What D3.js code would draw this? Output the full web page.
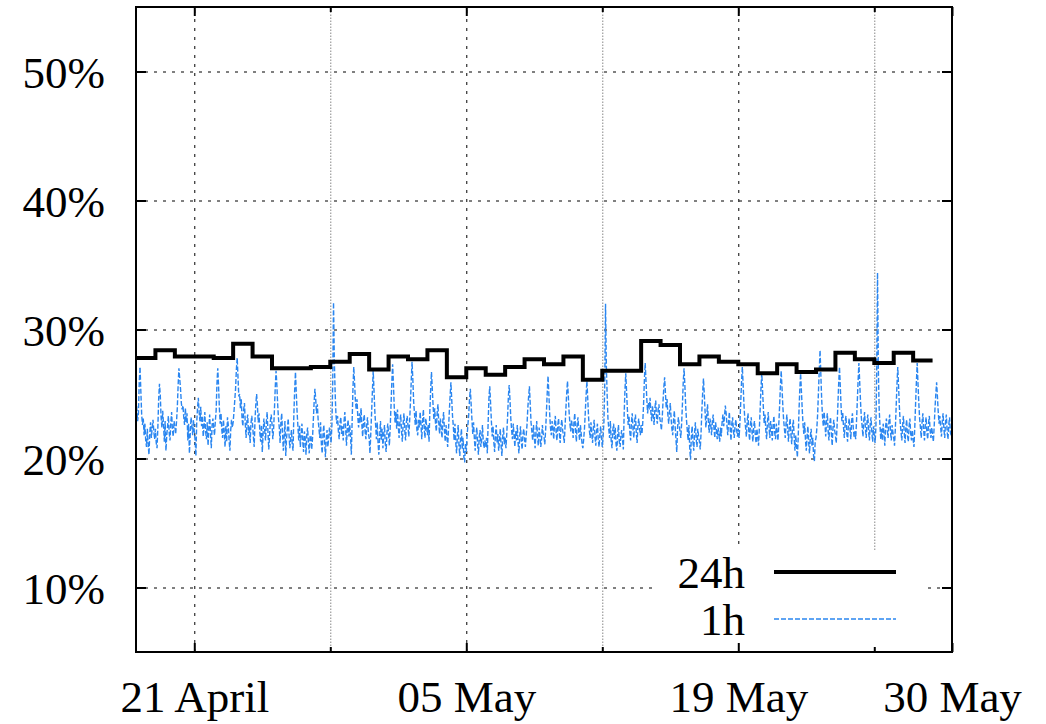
<!DOCTYPE html>
<html>
<head>
<meta charset="utf-8">
<script src="https://cdn.jsdelivr.net/npm/d3@7"></script>
<style>
  html, body { margin: 0; padding: 0; background: #fff; }
  svg { display: block; }
  text { font-family: "Liberation Serif", "Times New Roman", Times, serif; fill: #000; }
</style>
</head>
<body>
<svg id="chart" width="1046" height="724"></svg>
<script>
// ---- data ----
const startDay = "2013-04-18";
const endDay = "2013-05-30";
const yTicks = [10, 20, 30, 40, 50];
const xLabelDates = ["2013-04-21", "2013-05-05", "2013-05-19", "2013-05-30"];
const xLabels = ["21 April", "05 May", "19 May", "30 May"];
const xMinorDates = ["2013-04-28", "2013-05-12", "2013-05-26"];
const seriesNames = ["24h", "1h"];

// 24h average, one value per day starting 18 April (percent)
const daily24h = [
  27.8, 28.4, 27.9, 27.9, 27.8, 28.9, 27.9, 27.0, 27.0, 27.1,
  27.5, 28.1, 26.9, 27.9, 27.7, 28.4, 26.3, 27.0, 26.5, 27.1,
  27.7, 27.3, 27.9, 26.1, 26.8, 26.8, 29.1, 28.8, 27.3, 27.9,
  27.5, 27.3, 26.6, 27.3, 26.7, 26.9, 28.2, 27.7, 27.4, 28.2,
  27.6
];

// 1h average, one value per hour starting 18 April 00:00 (percent)
const hourly1h = [
  24.6,23.8,22.9,23.5,25.9,27.1,25.2,23.4,22.6,23.1,21.8,22.7,21.4,20.9,22.3,21.1,20.3,21.9,22.8,21.6,22.4,23.0,22.1,21.5, // 18 Apr
  22.3,21.2,20.8,22.4,24.6,25.8,24.9,23.2,22.4,23.7,22.6,21.3,22.9,20.6,21.8,22.5,23.3,22.0,21.4,22.8,23.6,22.2,21.7,22.9, // 19 Apr
  22.5,21.9,22.8,23.9,25.6,27.0,26.2,25.4,24.3,23.8,24.1,23.2,22.6,23.9,22.8,23.5,21.4,22.7,20.4,21.9,23.2,22.6,21.8,23.0, // 20 Apr
  22.1,21.4,20.2,22.8,23.9,24.7,23.6,22.9,24.0,22.5,23.3,21.7,22.4,23.6,22.1,21.5,22.8,21.0,22.3,23.4,22.0,20.8,22.6,23.1, // 21 Apr
  22.4,21.8,22.9,23.7,25.8,27.0,25.6,23.9,22.7,23.5,22.2,21.6,23.0,22.1,20.9,22.5,21.3,23.2,22.6,21.4,20.6,22.2,23.0,22.4, // 22 Apr
  22.8,23.6,24.5,25.4,26.9,27.8,26.3,24.8,25.0,23.9,24.6,23.1,22.5,23.8,24.3,22.7,21.6,22.9,23.4,21.8,22.5,21.2,22.7,23.3, // 23 Apr
  22.6,21.7,20.9,23.0,24.2,25.0,24.1,22.8,23.5,22.0,21.3,22.6,20.5,21.9,23.1,22.2,21.4,22.8,23.6,22.1,20.7,21.8,22.9,23.4, // 24 Apr
  22.7,21.5,22.3,23.8,25.5,26.8,25.7,24.2,23.1,22.4,21.2,22.8,23.5,22.0,20.6,21.7,22.9,20.2,21.6,22.3,23.1,21.9,20.8,21.5, // 25 Apr
  22.2,21.1,20.6,23.4,25.3,26.7,25.1,23.6,22.5,21.4,22.6,20.9,21.8,22.7,21.3,20.5,22.1,21.6,20.3,21.9,22.4,21.2,20.4,21.7, // 26 Apr
  21.8,20.7,21.5,22.9,24.3,25.4,24.6,23.5,24.2,23.0,22.3,21.6,22.8,21.1,20.4,21.9,22.6,21.3,20.1,21.5,22.2,20.9,21.6,22.4, // 27 Apr
  21.9,21.2,22.6,25.8,32.1,27.6,25.1,23.4,22.7,23.3,22.1,21.5,22.8,23.2,21.9,22.5,21.4,22.9,23.6,22.3,21.0,22.4,23.0,21.7, // 28 Apr
  22.6,21.8,20.3,22.9,25.4,27.1,25.9,24.5,23.8,24.6,23.2,22.4,23.5,22.8,23.9,22.6,21.7,22.9,23.4,22.1,21.5,22.6,23.2,22.0, // 29 Apr
  21.6,20.4,21.9,23.5,25.2,26.8,25.3,23.7,22.6,21.5,22.8,21.2,20.3,21.7,22.9,21.4,22.3,20.8,21.9,22.6,21.1,20.5,22.0,22.7, // 30 Apr
  21.9,21.0,22.4,24.1,25.9,27.3,25.8,24.0,22.8,23.6,22.3,23.8,22.5,21.6,22.9,23.4,22.1,21.3,22.7,23.5,22.2,21.4,22.8,23.3, // 01 May
  22.5,21.7,22.9,24.3,26.0,27.5,26.1,24.4,23.5,22.6,23.7,22.2,21.8,23.0,22.4,23.6,22.7,21.5,22.9,23.8,22.3,21.6,23.1,22.5, // 02 May
  21.8,22.6,21.3,23.7,25.3,26.7,25.4,24.1,23.0,23.9,22.7,22.1,23.5,24.2,22.8,21.9,23.1,22.4,21.6,22.9,23.6,22.2,21.3,22.6, // 03 May
  21.7,20.9,22.2,23.6,24.8,25.9,24.6,23.3,22.5,21.4,22.7,21.2,20.4,21.8,22.6,21.0,20.2,21.5,22.3,20.7,21.6,20.1,19.7,21.2, // 04 May
  20.5,21.8,22.6,23.4,24.6,25.4,24.2,23.0,21.9,22.8,21.5,20.6,21.9,22.4,21.1,20.3,21.7,22.2,20.9,21.5,22.6,21.3,20.8,21.4, // 05 May
  20.9,21.6,20.4,22.8,24.7,25.6,24.3,22.9,21.7,22.5,21.3,20.5,21.8,22.6,21.2,21.9,20.6,21.4,22.3,21.0,20.2,21.7,22.4,21.1, // 06 May
  21.6,20.8,21.9,23.2,24.8,25.7,24.5,23.1,22.2,21.5,22.7,21.8,20.9,22.1,21.4,22.6,21.2,20.4,21.7,22.5,21.3,20.7,21.9,22.3, // 07 May
  21.5,20.9,21.8,22.6,23.9,24.8,25.6,24.2,22.8,22.1,21.4,22.6,21.7,20.8,22.0,22.9,21.6,21.0,22.4,21.8,20.9,21.5,22.6,21.9, // 08 May
  21.7,21.1,22.2,23.6,25.1,26.4,25.0,23.5,22.4,21.8,22.9,22.3,21.5,22.7,23.3,22.0,21.4,22.6,23.1,21.9,21.2,22.5,23.0,22.2, // 09 May
  21.8,21.2,22.5,23.8,25.0,26.0,24.9,23.6,22.7,22.1,23.0,22.4,21.6,22.8,23.5,22.2,21.3,22.7,23.2,22.0,21.4,22.6,21.9,21.1, // 10 May
  20.8,21.5,22.3,23.6,24.9,26.0,24.7,23.3,22.2,21.6,22.8,21.9,21.2,22.4,23.0,21.7,21.0,22.1,22.7,21.5,20.9,21.8,22.5,21.6, // 11 May
  20.9,21.7,22.8,25.5,32.0,27.2,24.9,23.1,22.3,21.6,22.9,21.4,20.8,22.2,22.7,21.5,22.4,21.1,20.6,21.9,22.6,21.3,20.9,21.8, // 12 May
  22.2,21.5,20.7,23.4,25.3,26.6,25.2,23.8,22.6,23.3,22.1,21.4,22.8,23.5,22.2,21.6,22.9,23.4,22.0,21.2,22.5,23.1,22.4,21.8, // 13 May
  22.6,21.9,22.8,24.2,26.1,27.4,26.0,24.6,23.5,24.3,23.8,24.7,23.6,22.9,24.1,23.4,22.6,23.9,24.5,23.2,22.7,23.8,24.2,23.1, // 14 May
  22.8,22.2,23.1,24.4,25.5,26.3,25.1,23.9,24.6,23.4,22.7,23.6,24.3,23.1,22.3,21.8,23.0,23.7,22.5,21.5,20.5,22.4,23.2,22.6, // 15 May
  22.1,21.6,22.7,24.2,25.9,27.0,25.7,24.1,23.0,22.2,21.4,22.6,20.8,19.9,21.7,22.5,21.3,20.6,22.0,22.8,21.5,20.9,22.3,21.7, // 16 May
  21.3,20.7,22.0,23.7,25.1,26.2,25.0,23.6,22.4,23.3,24.2,22.9,22.0,23.1,22.6,21.8,22.9,23.4,22.3,21.6,22.8,22.2,21.5,22.4, // 17 May
  21.9,21.3,22.4,21.7,22.8,23.4,22.5,23.3,24.1,23.5,22.6,21.8,22.9,23.6,22.3,21.4,22.7,23.2,22.1,21.6,22.5,23.0,22.2,21.7, // 18 May
  22.3,21.6,22.8,24.3,25.9,27.1,25.7,24.2,23.1,22.4,21.7,22.9,23.5,22.1,21.4,22.6,23.2,22.0,21.3,22.5,22.9,21.8,21.2,22.3, // 19 May
  21.7,21.0,22.3,23.8,25.4,26.6,25.3,23.9,22.7,23.4,22.2,21.5,22.8,23.6,22.4,21.6,22.9,22.3,21.4,22.6,23.3,22.0,21.5,22.7, // 20 May
  22.0,21.4,22.6,24.0,25.6,26.8,25.5,24.1,23.0,22.3,21.6,22.7,23.4,22.2,21.3,22.5,23.1,21.9,21.1,22.4,23.0,21.7,20.6,21.8, // 21 May
  20.9,20.1,21.6,23.7,25.4,26.6,25.2,23.8,22.6,21.9,22.8,21.4,20.6,21.8,22.5,21.2,20.4,21.7,22.3,21.0,21.6,20.2,19.8,21.3, // 22 May
  21.6,22.3,23.4,25.1,26.8,28.4,26.5,24.6,23.3,22.5,23.6,22.8,21.7,22.9,23.5,22.1,21.4,22.7,23.2,21.9,21.0,22.4,23.0,22.2, // 23 May
  21.8,21.2,22.5,24.1,25.8,27.1,25.6,24.0,22.9,23.6,22.4,21.6,22.8,23.3,22.0,21.3,22.6,23.1,22.3,21.5,22.9,23.5,22.4,21.7, // 24 May
  22.1,21.5,22.8,24.4,26.0,27.4,25.9,24.4,23.2,22.5,21.7,22.9,23.6,22.4,21.6,22.8,23.4,22.1,21.4,22.7,23.2,22.0,21.3,22.5, // 25 May
  21.8,21.2,22.4,26.8,34.4,27.0,23.9,22.6,21.5,22.3,21.4,22.7,21.9,21.0,22.5,23.1,22.2,21.6,22.8,23.4,22.1,21.4,22.6,22.0, // 26 May
  21.6,21.0,22.3,24.0,25.7,27.1,25.6,24.0,22.8,22.1,21.4,22.6,23.3,22.0,21.2,22.4,23.0,21.8,21.3,22.5,23.1,21.9,21.4,22.2, // 27 May
  21.5,20.9,22.4,24.2,25.9,27.4,25.8,24.3,23.1,22.4,21.6,22.8,23.5,22.2,21.4,22.6,23.2,22.0,21.5,22.7,23.3,22.1,21.6,22.4, // 28 May
  21.8,21.3,22.5,23.9,25.0,25.9,24.8,23.6,22.7,23.3,22.4,21.7,22.9,23.5,22.3,21.6,22.8,23.4,22.1,21.5,22.6,23.2,22.0,21.8  // 29 May
];

// ---- layout ----
const plot = { left: 136, right: 952, top: 7, bottom: 652 };
const FONT = 45;

const parseDay = d3.utcParse("%Y-%m-%d");
const t0 = parseDay(startDay);

const x = d3.scaleUtc()
  .domain([t0, parseDay(endDay)])
  .range([plot.left, plot.right]);
const y = d3.scaleLinear()
  .domain([5, 55])
  .range([plot.bottom, plot.top]);

const dailyPts = daily24h.map((v, i) => ({ t: d3.utcDay.offset(t0, i), v }));
// close the last step at the end of its day
dailyPts.push({ t: d3.utcDay.offset(t0, daily24h.length), v: daily24h[daily24h.length - 1] });
const hourlyPts = hourly1h.map((v, i) => ({ t: d3.utcHour.offset(t0, i), v }));

const svg = d3.select("#chart");
const W = plot.right - plot.left, H = plot.bottom - plot.top;

// ---- grid ----
const gridY = svg.append("g")
  .attr("transform", `translate(${plot.left},0)`)
  .call(d3.axisLeft(y).tickValues(yTicks).tickSize(-W).tickFormat(""));
gridY.select(".domain").remove();
gridY.selectAll("line").attr("stroke", "#000").attr("stroke-width", 1).attr("stroke-dasharray", "3,6");

const gridXMajor = svg.append("g")
  .attr("transform", `translate(0,${plot.bottom})`)
  .call(d3.axisBottom(x).tickValues(xLabelDates.map(parseDay)).tickSize(-H).tickFormat(""));
gridXMajor.select(".domain").remove();
gridXMajor.selectAll("line").attr("stroke", "#000").attr("stroke-width", 1).attr("stroke-dasharray", "3,6");

const gridXMinor = svg.append("g")
  .attr("transform", `translate(0,${plot.bottom})`)
  .call(d3.axisBottom(x).tickValues(xMinorDates.map(parseDay)).tickSize(-H).tickFormat(""));
gridXMinor.select(".domain").remove();
gridXMinor.selectAll("line").attr("stroke", "#888").attr("stroke-width", 1).attr("stroke-dasharray", "1.5,1.5");

// ---- series ----
const blue = "#2a86f0";
const line = d3.line().x(d => x(d.t)).y(d => y(d.v));

svg.append("path")
  .datum(hourlyPts)
  .attr("d", line)
  .attr("fill", "none")
  .attr("stroke", blue)
  .attr("stroke-width", 1.4)
  .attr("stroke-dasharray", "5,2");

svg.append("path")
  .datum(dailyPts)
  .attr("d", line.curve(d3.curveStepAfter))
  .attr("fill", "none")
  .attr("stroke", "#000")
  .attr("stroke-width", 4)
  .attr("stroke-linejoin", "miter");

// ---- legend ----
const legend = svg.append("g");
legend.append("rect")
  .attr("x", 658).attr("y", 550).attr("width", 268).attr("height", plot.bottom - 550)
  .attr("fill", "#fff");
const legendRows = [
  { name: seriesNames[0], color: "#000", width: 4, dash: null, yLine: 572, yText: 588 },
  { name: seriesNames[1], color: blue, width: 1.4, dash: "5,2", yLine: 619, yText: 635 }
];
legendRows.forEach(r => {
  legend.append("text")
    .attr("x", 745).attr("y", r.yText)
    .attr("text-anchor", "end")
    .attr("font-size", FONT)
    .text(r.name);
  legend.append("line")
    .attr("x1", 774).attr("x2", 896)
    .attr("y1", r.yLine).attr("y2", r.yLine)
    .attr("stroke", r.color)
    .attr("stroke-width", r.width)
    .attr("stroke-dasharray", r.dash);
});

// ---- axes ----
function styleAxis(g) {
  g.attr("font-family", null).attr("font-size", null);
  g.select(".domain").remove();
  g.selectAll(".tick line").attr("stroke", "#000").attr("stroke-width", 2);
  g.selectAll("text").attr("font-size", FONT).attr("fill", "#000");
}

svg.append("g")
  .attr("transform", `translate(${plot.left},0)`)
  .call(d3.axisLeft(y).tickValues(yTicks).tickFormat(d => d + "%").tickSizeInner(-10).tickSizeOuter(0).tickPadding(31))
  .call(styleAxis)
  .selectAll("text").attr("dy", "0.35em");

svg.append("g")
  .attr("transform", `translate(${plot.right},0)`)
  .call(d3.axisRight(y).tickValues(yTicks).tickFormat("").tickSizeInner(-10).tickSizeOuter(0))
  .call(styleAxis);

const xBottom = svg.append("g")
  .attr("transform", `translate(0,${plot.bottom})`)
  .call(d3.axisBottom(x).tickValues(xLabelDates.map(parseDay))
    .tickFormat((d, i) => xLabels[i]).tickSizeInner(-9).tickSizeOuter(0))
  .call(styleAxis);
xBottom.selectAll("text").attr("y", 60).attr("dy", null);

svg.append("g")
  .attr("transform", `translate(0,${plot.bottom})`)
  .call(d3.axisBottom(x).tickValues(xMinorDates.map(parseDay)).tickFormat("").tickSizeInner(-5).tickSizeOuter(0))
  .call(styleAxis);

svg.append("g")
  .attr("transform", `translate(0,${plot.top})`)
  .call(d3.axisTop(x).tickValues(xLabelDates.map(parseDay)).tickFormat("").tickSizeInner(-9).tickSizeOuter(0))
  .call(styleAxis);

svg.append("g")
  .attr("transform", `translate(0,${plot.top})`)
  .call(d3.axisTop(x).tickValues(xMinorDates.map(parseDay)).tickFormat("").tickSizeInner(-5).tickSizeOuter(0))
  .call(styleAxis);

// frame
svg.append("rect")
  .attr("x", plot.left).attr("y", plot.top)
  .attr("width", W).attr("height", H)
  .attr("fill", "none")
  .attr("stroke", "#000")
  .attr("stroke-width", 2);
</script>
</body>
</html>
